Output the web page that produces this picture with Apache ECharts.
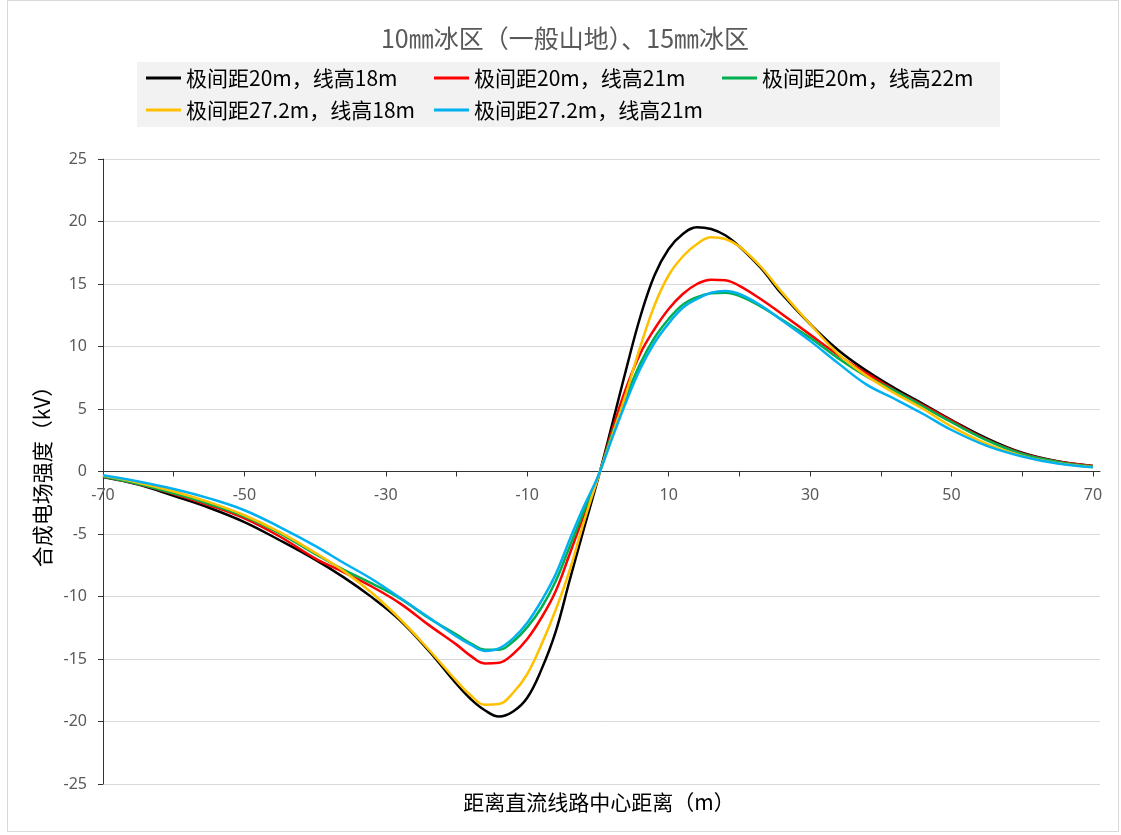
<!DOCTYPE html>
<html>
<head>
<meta charset="utf-8">
<script src="https://cdn.jsdelivr.net/npm/echarts@6/dist/echarts.min.js"></script>
<style>
  html, body { margin: 0; padding: 0; background: #ffffff; }
  #chart { width: 1121px; height: 835px; }
</style>
</head>
<body>
<div id="chart"></div>
<script>
// Titles
const titleText = '10㎜冰区（一般山地）、15㎜冰区';
const xAxisName = '距离直流线路中心距离（m）';
const yAxisName = '合成电场强度（kV）';

// Series names and colours
const seriesNames = [
  '极间距20m，线高18m',
  '极间距20m，线高21m',
  '极间距20m，线高22m',
  '极间距27.2m，线高18m',
  '极间距27.2m，线高21m'
];
const seriesColors = ['#000000', '#ff0000', '#00b050', '#ffc000', '#00b0f0'];

// Distance from line centre (m)
const distance = [-70, -65, -60, -55, -50, -45, -40, -36, -32, -28, -24,
  -20, -18, -16, -14, -12, -10, -8, -6, -4, -2, 0,
  2, 4, 6, 8, 10, 12, 14, 16, 18, 20,
  23, 26, 30, 34, 38, 42, 46, 50, 55, 60, 65, 70];

// Total electric field (kV) for each configuration
const field_20_18 = [-0.45, -1.05, -1.95, -2.9, -4.05, -5.5, -7.05, -8.45, -10.05, -11.9, -14.3,
  -17.0, -18.2, -19.1, -19.6, -19.2, -18.1, -15.85, -12.85, -8.7, -4.6, -0.6,
  3.75, 8.2, 12.4, 15.7, 17.8, 19.0, 19.55, 19.4, 18.9, 18.0,
  16.3, 14.2, 11.8, 9.7, 8.05, 6.65, 5.4, 4.12, 2.65, 1.5, 0.82, 0.45];
const field_20_21 = [-0.4, -1.0, -1.8, -2.7, -3.75, -5.2, -6.95, -8.05, -9.2, -10.55, -12.25,
  -13.85, -14.75, -15.35, -15.3, -14.6, -13.4, -11.7, -9.6, -6.6, -3.5, -0.5,
  3.3, 6.7, 9.45, 11.4, 13.0, 14.2, 15.0, 15.35, 15.3, 14.85,
  13.8, 12.6, 10.95, 9.3, 7.85, 6.5, 5.3, 4.05, 2.55, 1.45, 0.8, 0.45];
const field_20_22 = [-0.4, -1.0, -1.75, -2.6, -3.6, -4.95, -6.6, -7.85, -8.95, -10.15, -11.7,
  -13.05, -13.75, -14.25, -14.25, -13.6, -12.45, -10.9, -8.8, -6.0, -3.2, -0.45,
  3.0, 6.0, 8.65, 10.7, 12.2, 13.35, 13.95, 14.25, 14.3, 14.05,
  13.2, 12.15, 10.7, 9.05, 7.6, 6.45, 5.2, 3.95, 2.5, 1.4, 0.77, 0.4];
const field_272_18 = [-0.35, -0.9, -1.6, -2.45, -3.5, -4.85, -6.5, -7.95, -9.7, -11.8, -14.2,
  -16.75, -17.9, -18.65, -18.6, -17.7, -16.2, -13.85, -11.1, -7.9, -4.05, -0.5,
  2.8, 6.3, 10.0, 13.3, 15.7, 17.2, 18.2, 18.75, 18.6, 18.0,
  16.4, 14.35, 11.8, 9.4, 7.65, 6.25, 5.0, 3.6, 2.2, 1.25, 0.67, 0.35];
const field_272_21 = [-0.3, -0.8, -1.4, -2.15, -3.1, -4.45, -5.95, -7.3, -8.6, -10.1, -11.65,
  -13.2, -13.85, -14.35, -14.15, -13.35, -12.1, -10.35, -8.25, -5.45, -2.8, -0.4,
  2.65, 5.6, 8.25, 10.3, 11.85, 13.1, 13.8, 14.3, 14.45, 14.2,
  13.3, 12.1, 10.45, 8.65, 6.95, 5.8, 4.6, 3.32, 2.05, 1.2, 0.64, 0.33];
const fieldSeries = [field_20_18, field_20_21, field_20_22, field_272_18, field_272_21];

// Axis ticks and labels
const xTickValues = [-70, -60, -50, -40, -30, -20, -10, 0, 10, 20, 30, 40, 50, 60, 70];
const xLabelValues = [-70, -50, -30, -10, 10, 30, 50, 70];

const cjkFont = '"Noto Sans CJK SC", "Noto Sans", sans-serif';
const numFont = '"Noto Sans", "Liberation Sans", sans-serif';

// Plot box
const plotTop = 159;
const plotBottom = 51;
const chartHeight = 835;
const yMin = -25;
const yMax = 25;
// move the x axis line up to the zero level of the y scale
const zeroShift = (chartHeight - plotTop - plotBottom) * (0 - yMin) / (yMax - yMin);

// Legend slots: two rows, three columns
const legendSlots = [
  { left: 146, top: 66.5 },
  { left: 434, top: 66.5 },
  { left: 722, top: 66.5 },
  { left: 146, top: 98.5 },
  { left: 434, top: 98.5 }
];

const chart = echarts.init(document.getElementById('chart'), null, { renderer: 'canvas' });

chart.setOption({
  animation: false,
  backgroundColor: '#ffffff',
  graphic: [
    {
      type: 'rect', silent: true, z: 0,
      shape: { x: 7.5, y: 0.5, width: 1111, height: 831 },
      style: { fill: 'none', stroke: '#d9d9d9', lineWidth: 1 }
    },
    {
      type: 'rect', silent: true, z: 0,
      shape: { x: 137, y: 62, width: 863, height: 65 },
      style: { fill: '#f2f2f2' }
    },
    {
      type: 'text', silent: true, z: 5,
      x: 565, y: 38,
      style: {
        text: titleText, fill: '#595959',
        font: '25px ' + cjkFont,
        textAlign: 'center', textVerticalAlign: 'middle'
      }
    },
    {
      type: 'text', silent: true, z: 5,
      x: 599, y: 802,
      style: {
        text: xAxisName, fill: '#000000',
        font: '21px ' + cjkFont,
        textAlign: 'center', textVerticalAlign: 'middle'
      }
    }
  ],
  legend: seriesNames.map((name, i) => ({
    data: [name],
    left: legendSlots[i].left,
    top: legendSlots[i].top,
    padding: 0,
    icon: 'rect',
    itemWidth: 35,
    itemHeight: 3,
    selectedMode: false,
    textStyle: { fontFamily: cjkFont, fontSize: 21, lineHeight: 23, color: '#000000' }
  })),
  grid: {
    left: 103, right: 21, top: plotTop, bottom: plotBottom,
    outerBoundsMode: 'none'
  },
  xAxis: {
    type: 'value',
    position: 'bottom',
    offset: -zeroShift,
    min: -70,
    max: 71,
    interval: 10,
    axisLine: { show: true, onZero: false, lineStyle: { color: '#333333', width: 1 } },
    axisTick: { show: true, length: 5, customValues: xTickValues, lineStyle: { color: '#333333' } },
    axisLabel: {
      customValues: xLabelValues,
      margin: 16,
      color: '#595959',
      fontFamily: numFont,
      fontSize: 16,
      formatter: v => (xLabelValues.indexOf(v) >= 0 ? String(v) : '')
    },
    splitLine: { show: false }
  },
  yAxis: {
    type: 'value',
    min: yMin,
    max: yMax,
    interval: 5,
    name: yAxisName,
    nameLocation: 'middle',
    nameRotate: 90,
    nameGap: 50,
    nameTextStyle: { fontFamily: cjkFont, fontSize: 21, color: '#000000' },
    axisLine: { show: true, onZero: false, lineStyle: { color: '#333333', width: 1 } },
    axisTick: { show: true, length: 5, lineStyle: { color: '#333333' } },
    axisLabel: { margin: 16, color: '#595959', fontFamily: numFont, fontSize: 16 },
    splitLine: { show: true, lineStyle: { color: '#d9d9d9', width: 1 } }
  },
  series: seriesNames.map((name, i) => ({
    name: name,
    type: 'line',
    data: distance.map((x, j) => [x, fieldSeries[i][j]]),
    smooth: 0.4,
    showSymbol: false,
    symbol: 'none',
    color: seriesColors[i],
    lineStyle: { color: seriesColors[i], width: 2.5 },
    z: 2 + i
  }))
});
</script>
</body>
</html>
